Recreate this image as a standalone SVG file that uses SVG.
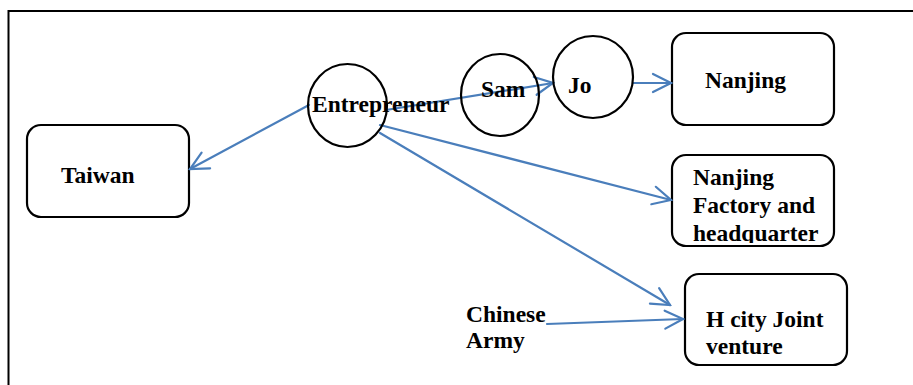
<svg xmlns="http://www.w3.org/2000/svg" width="913" height="385" viewBox="0 0 913 385">
<style>
.box{fill:#fff;stroke:#000;stroke-width:2.2}
.circ{fill:none;stroke:#000;stroke-width:2.2}
.t{font-family:"Liberation Serif","Times New Roman",serif;font-weight:bold;font-size:23.5px;fill:#000}
.c{fill:none;stroke:#4a7ebb;stroke-width:2.2;stroke-linecap:round}
</style>
<defs>
<marker id="arr" viewBox="-20 -12 22 24" refX="0" refY="0" markerWidth="22" markerHeight="24" markerUnits="userSpaceOnUse" orient="auto">
<path d="M-18,-9 L0,0 L-18,9" fill="none" stroke="#4a7ebb" stroke-width="2.2" stroke-linecap="round" stroke-linejoin="miter"/>
</marker>
<clipPath id="clipF"><rect x="673" y="156" width="160" height="87" rx="13"/></clipPath>
</defs>
<rect x="8.5" y="11" width="920" height="400" fill="none" stroke="#000" stroke-width="2"/>
<g id="taiwan"><rect class="box" x="27" y="125" width="162" height="92" rx="14"/><text class="t" x="61" y="183">Taiwan</text></g>
<g id="nanjing"><rect class="box" x="672" y="33" width="162" height="92" rx="14"/><text class="t" x="705" y="88">Nanjing</text></g>
<g id="factory"><rect class="box" x="672" y="155" width="162" height="91" rx="14"/><g clip-path="url(#clipF)"><text class="t" x="693" y="185">Nanjing</text><text class="t" x="693" y="213">Factory and</text><text class="t" x="693" y="241">headquarter</text></g></g>
<g id="hcity"><rect class="box" x="685" y="274" width="162" height="91" rx="14"/><text class="t" x="706" y="327">H city Joint</text><text class="t" x="706" y="354">venture</text></g>
<g id="connectors">
<line class="c" x1="309" y1="105" x2="190" y2="169" marker-end="url(#arr)"/>
<line class="c" x1="386" y1="110" x2="553" y2="83" marker-end="url(#arr)"/>
<line class="c" x1="633" y1="83" x2="671" y2="83" marker-end="url(#arr)"/>
<line class="c" x1="380" y1="125" x2="671" y2="200" marker-end="url(#arr)"/>
<line class="c" x1="380" y1="133" x2="670" y2="305" marker-end="url(#arr)"/>
<line class="c" x1="547" y1="324" x2="683" y2="319" marker-end="url(#arr)"/>
</g>
<g id="entrepreneur"><ellipse class="circ" cx="347.5" cy="105.5" rx="39.5" ry="41.5"/><text class="t" x="312" y="112">Entrepreneur</text></g>
<g id="sam"><ellipse class="circ" cx="500" cy="95" rx="39" ry="41"/><text class="t" x="481" y="97">Sam</text></g>
<g id="jo"><ellipse class="circ" cx="593" cy="77" rx="40" ry="41"/><text class="t" x="568" y="93">Jo</text></g>
<g id="army"><text class="t" x="466" y="322">Chinese</text><text class="t" x="466" y="348">Army</text></g>
</svg>
